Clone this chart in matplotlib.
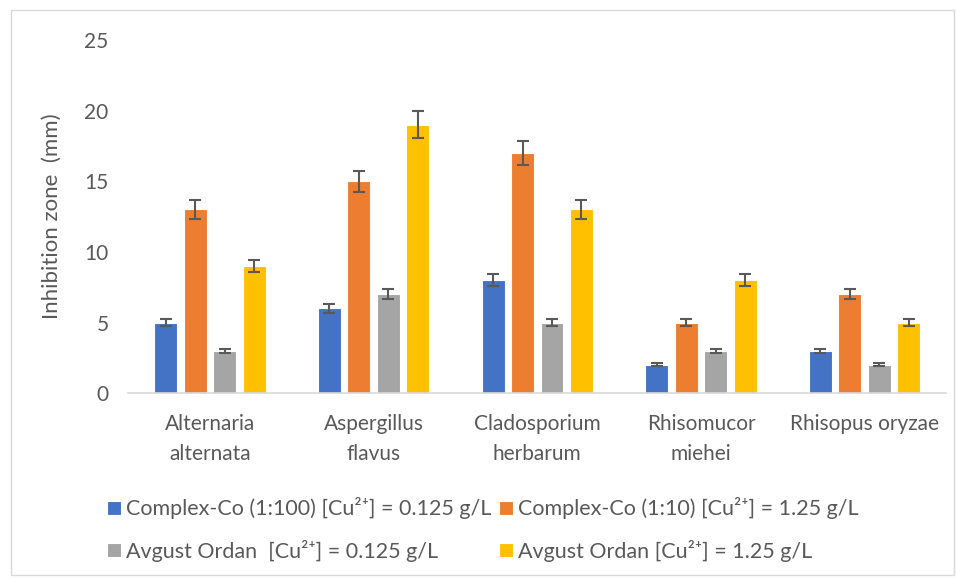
import numpy as np
import matplotlib
matplotlib.use("Agg")
import matplotlib.pyplot as plt
from matplotlib.patches import Rectangle

plt.rcParams['font.family'] = ['Lato', 'DejaVu Sans']

# data
categories = ["Alternaria\nalternata", "Aspergillus\nflavus", "Cladosporium\nherbarum",
              "Rhisomucor\nmiehei", "Rhisopus oryzae"]
series_names = ["Complex-Co (1:100) [Cu²⁺] = 0.125 g/L",
                "Complex-Co (1:10) [Cu²⁺] = 1.25 g/L",
                "Avgust Ordan  [Cu²⁺] = 0.125 g/L",
                "Avgust Ordan [Cu²⁺] = 1.25 g/L"]
co_100 = [5, 6, 8, 2, 3]
co_10 = [13, 15, 17, 5, 7]
ordan_low = [3, 7, 5, 3, 2]
ordan_high = [9, 19, 13, 8, 5]
err_co_100 = [0.25, 0.3, 0.4, 0.1, 0.15]
err_co_10 = [0.65, 0.75, 0.85, 0.25, 0.35]
err_ordan_low = [0.15, 0.35, 0.25, 0.15, 0.1]
err_ordan_high = [0.45, 0.95, 0.65, 0.4, 0.25]

colors = ["#4472C4", "#ED7D31", "#A5A5A5", "#FFC000"]
grey = "#595959"

fig = plt.figure(figsize=(9.56, 5.79), dpi=100)
fig.patches.append(Rectangle((0.011, 0.007), 0.987, 0.976, transform=fig.transFigure,
                             fill=False, edgecolor="#D9D9D9", linewidth=1))
ax = fig.add_axes([0.134, 0.321, 0.856, 0.610])

x = np.arange(len(categories))
w = 0.14
pitch = 0.18
all_vals = [co_100, co_10, ordan_low, ordan_high]
all_errs = [err_co_100, err_co_10, err_ordan_low, err_ordan_high]
handles = []
for i, (vals, errs) in enumerate(zip(all_vals, all_errs)):
    pos = x + (i - 1.5) * pitch
    b = ax.bar(pos, vals, w, color=colors[i], edgecolor="white", linewidth=0.8,
               label=series_names[i], zorder=2)
    handles.append(b)
    ax.errorbar(pos, vals, yerr=errs, fmt="none", ecolor=grey, elinewidth=1.5,
                capsize=4.5, capthick=1.5, zorder=3)

ax.set_xlim(-0.5, len(categories) - 0.5)
ax.set_ylim(0, 25)
ax.set_yticks([0, 5, 10, 15, 20, 25])
ax.set_xticks(x)
ax.set_xticklabels(categories)
ax.tick_params(axis="both", length=0, labelsize=15, colors=grey)
ax.tick_params(axis="y", pad=14)
ax.tick_params(axis="x", pad=15)
for lab in ax.get_xticklabels():
    lab.set_linespacing(1.65)
for s in ["top", "right", "left"]:
    ax.spines[s].set_visible(False)
ax.spines["bottom"].set_color("#D9D9D9")
ax.spines["bottom"].set_linewidth(1.2)
ax.set_ylabel("Inhibition zone  (mm)", fontsize=16, color=grey, labelpad=16)

# row-wise order like Excel
order = [0, 2, 1, 3]
leg = fig.legend([handles[k] for k in order], [series_names[k] for k in order],
                 loc="center", bbox_to_anchor=(0.505, 0.0855), ncol=2, frameon=False,
                 fontsize=15.5, handlelength=0.65, handleheight=0.65, handletextpad=0.25,
                 columnspacing=0.35, labelspacing=0.95)
for t in leg.get_texts():
    t.set_color(grey)

fig.savefig("out.png", dpi=100)
